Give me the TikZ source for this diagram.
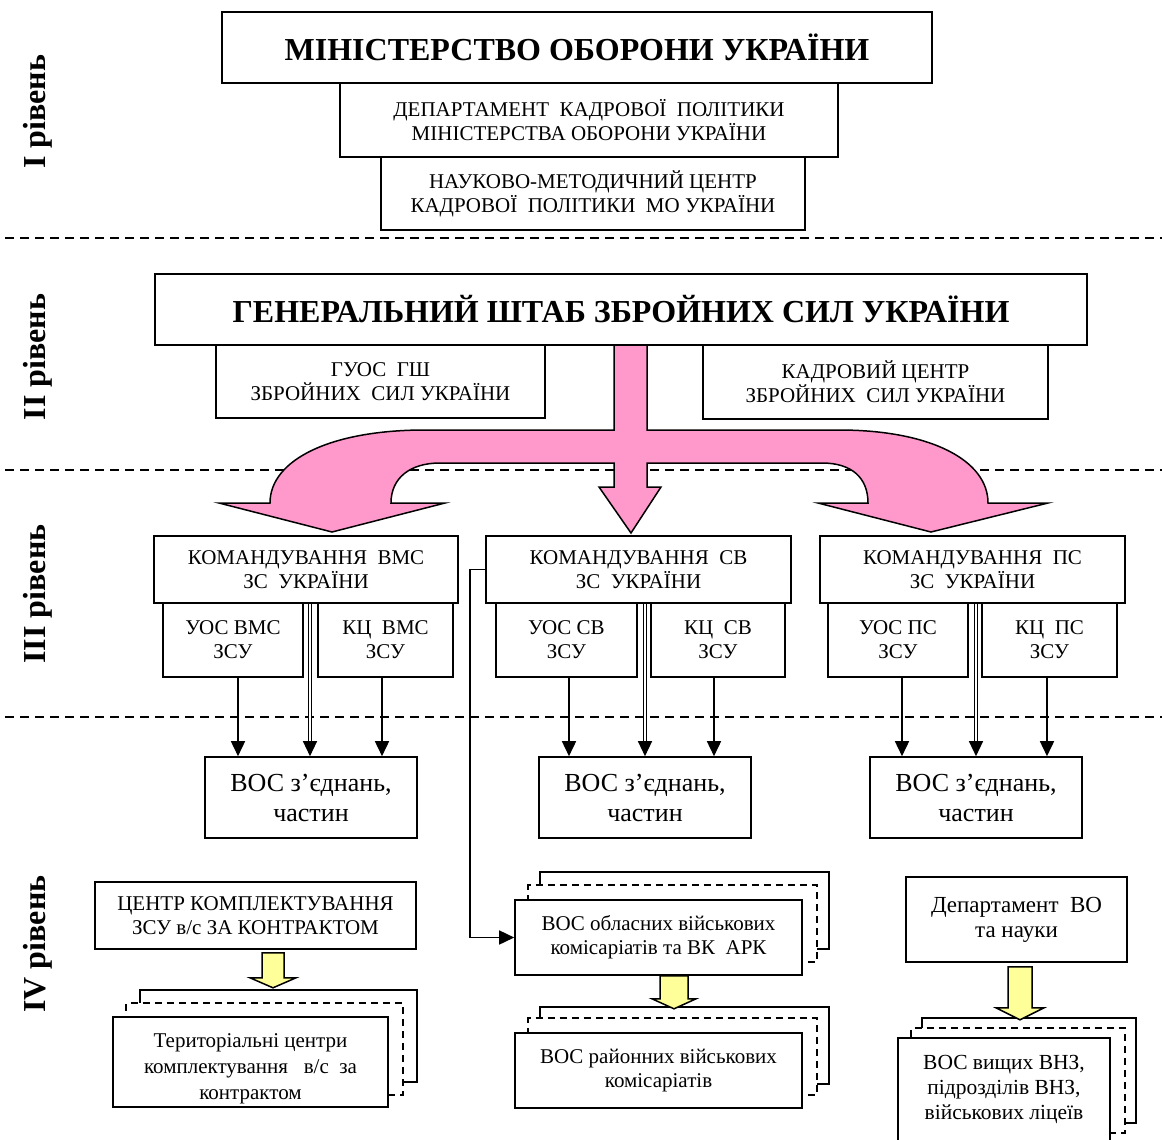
\documentclass[tikz,border=0pt]{standalone}
\usepackage{fontspec}
\setmainfont{Liberation Serif}
\usetikzlibrary{arrows.meta, backgrounds, positioning}

\definecolor{pinkfill}{RGB}{255,153,204}
\definecolor{yellowfill}{RGB}{255,255,153}

\tikzset{
  box/.style={draw, line width=1.6pt, fill=white, align=center, inner sep=0pt,
    font=\fontsize{21}{24}\selectfont},
  titlebox/.style={box, font=\bfseries\fontsize{32}{36}\selectfont},
  vosbox/.style={box, font=\fontsize{26}{30}\selectfont},
  levellabel/.style={rotate=90, font=\bfseries\fontsize{32}{34}\selectfont},
  conn/.style={line width=1.6pt, -{Triangle[length=15pt,width=14pt]}},
  dblconn/.style={conn, double, double distance=2pt, line width=1.3pt},
  levelsep/.style={line width=1.8pt, dash pattern=on 9pt off 6pt},
  backbox/.style={draw, line width=1.6pt, fill=white},
  backdash/.style={backbox, dash pattern=on 7pt off 5pt},
  bigarrow/.style={draw, line width=1.5pt, fill=pinkfill},
  yarrow/.style={draw, line width=1.5pt, fill=yellowfill},
}

\begin{document}
\begin{tikzpicture}[x=1pt, y=-1pt]
  % Page
  \useasboundingbox (0,0) rectangle (1162,1140);
  \begin{scope}[on background layer]
    \fill[white] (0,0) rectangle (1162,1140);
  \end{scope}

  % Level separators
  \draw[levelsep] (5,238) -- (1162,238);
  \draw[levelsep] (5,470) -- (1162,470);
  \draw[levelsep] (5,717) -- (1162,717);

  % Level labels
  \node[levellabel] (lvl1) at (38,112) {I рівень};
  \node[levellabel] (lvl2) at (38,357) {II рівень};
  \node[levellabel] (lvl3) at (38,594) {III рівень};
  \node[levellabel] (lvl4) at (38,944) {IV рівень};

  % Level I
  \node[titlebox, minimum width=710pt, minimum height=71pt] (mo) at (577,47.5)
    {МІНІСТЕРСТВО ОБОРОНИ УКРАЇНИ};
  \node[box, minimum width=498pt, minimum height=74pt] (dkp) at (589,120)
    {ДЕПАРТАМЕНТ~ КАДРОВОЇ~ ПОЛІТИКИ\\МІНІСТЕРСТВА ОБОРОНИ УКРАЇНИ};
  \node[box, minimum width=424pt, minimum height=73pt] (nmc) at (593,193.5)
    {НАУКОВО-МЕТОДИЧНИЙ ЦЕНТР\\КАДРОВОЇ~ ПОЛІТИКИ~ МО УКРАЇНИ};

  % Level II
  \node[titlebox, minimum width=932pt, minimum height=71pt] (gsh) at (621,309.5)
    {ГЕНЕРАЛЬНИЙ ШТАБ ЗБРОЙНИХ СИЛ УКРАЇНИ};
  \node[box, minimum width=329pt, minimum height=73pt] (guos) at (380.5,381.5)
    {ГУОС~ ГШ\\ЗБРОЙНИХ~ СИЛ УКРАЇНИ};
  \node[box, minimum width=345pt, minimum height=74pt] (kc) at (875.5,382)
    {КАДРОВИЙ ЦЕНТР\\ЗБРОЙНИХ~ СИЛ УКРАЇНИ};

  % Big arrow from the General Staff
  \draw[bigarrow] (614,345) -- (614,430) -- (425,430)
    .. controls (330,430) and (270,460) .. (270,503)
    -- (219,503) -- (332,532) -- (445,503) -- (391,503)
    .. controls (391,478) and (410,463) .. (440,463)
    -- (614,463) -- (614,487) -- (599,487) -- (631,533) -- (661,487) -- (647,487)
    -- (647,463) -- (822,463)
    .. controls (852,463) and (868,478) .. (868,503)
    -- (818,503) -- (931,532) -- (1048,503) -- (988,503)
    .. controls (988,460) and (930,430) .. (839,430)
    -- (647,430) -- (647,345) -- cycle;

  % Level III: commands
  \node[box, minimum width=304pt, minimum height=67pt] (kvms) at (306,569.5)
    {КОМАНДУВАННЯ~ ВМС\\ЗС~ УКРАЇНИ};
  \node[box, minimum width=140pt, minimum height=74pt] (uvms) at (233,640)
    {УОС ВМС\\ЗСУ};
  \node[box, minimum width=135pt, minimum height=74pt] (kcvms) at (385.5,640)
    {КЦ~ ВМС\\ЗСУ};
  \node[vosbox, minimum width=212pt, minimum height=81pt] (vvms) at (311,797.5)
    {ВОС з’єднань,\\частин};

  \node[box, minimum width=305pt, minimum height=67pt] (ksv) at (638.5,569.5)
    {КОМАНДУВАННЯ~ СВ\\ЗС~ УКРАЇНИ};
  \node[box, minimum width=141pt, minimum height=74pt] (usv) at (566.5,640)
    {УОС СВ\\ЗСУ};
  \node[box, minimum width=134pt, minimum height=74pt] (kcsv) at (718,640)
    {КЦ~ СВ\\ЗСУ};
  \node[vosbox, minimum width=212pt, minimum height=81pt] (vsv) at (645,797.5)
    {ВОС з’єднань,\\частин};

  \node[box, minimum width=305pt, minimum height=67pt] (kps) at (972.5,569.5)
    {КОМАНДУВАННЯ~ ПС\\ЗС~ УКРАЇНИ};
  \node[box, minimum width=140pt, minimum height=74pt] (ups) at (898,640)
    {УОС ПС\\ЗСУ};
  \node[box, minimum width=135pt, minimum height=74pt] (kcps) at (1049.5,640)
    {КЦ~ ПС\\ЗСУ};
  \node[vosbox, minimum width=212pt, minimum height=81pt] (vps) at (976,797.5)
    {ВОС з’єднань,\\частин};

  % Arrows down to the units
  \draw[conn] ([xshift=5pt]uvms.south) -- ([xshift=5pt]uvms.south |- vvms.north);
  \draw[dblconn] ([xshift=4pt]kvms.south) -- ([xshift=4pt]kvms.south |- vvms.north);
  \draw[conn] ([xshift=-3.5pt]kcvms.south) -- ([xshift=-3.5pt]kcvms.south |- vvms.north);

  \draw[conn] ([xshift=2.5pt]usv.south) -- ([xshift=2.5pt]usv.south |- vsv.north);
  \draw[dblconn] ([xshift=6.5pt]ksv.south) -- ([xshift=6.5pt]ksv.south |- vsv.north);
  \draw[conn] ([xshift=-4pt]kcsv.south) -- ([xshift=-4pt]kcsv.south |- vsv.north);

  \draw[conn] ([xshift=4pt]ups.south) -- ([xshift=4pt]ups.south |- vps.north);
  \draw[dblconn] ([xshift=3.5pt]kps.south) -- ([xshift=3.5pt]kps.south |- vps.north);
  \draw[conn] ([xshift=-2.5pt]kcps.south) -- ([xshift=-2.5pt]kcps.south |- vps.north);

  % Level IV
  \node[box, minimum width=321pt, minimum height=67pt] (ckzsu) at (255.5,915.5)
    {ЦЕНТР КОМПЛЕКТУВАННЯ\\ЗСУ в/с ЗА КОНТРАКТОМ};
  \node[box, minimum width=275pt, minimum height=90pt,
    font=\fontsize{21}{26}\selectfont] (terr) at (250.5,1062)
    {\rule{0pt}{28pt}Територіальні центри\\комплектування~~ в/с~ за\\контрактом};

  \node[box, minimum width=287pt, minimum height=75pt] (obl) at (658.5,937.5)
    {ВОС обласних військових\\комісаріатів та ВК~ АРК};
  \node[box, minimum width=287pt, minimum height=75pt] (ray) at (658.5,1070.5)
    {ВОС районних військових\\комісаріатів};

  \node[box, minimum width=221pt, minimum height=85pt,
    font=\fontsize{23}{25}\selectfont] (dept) at (1016.5,919.5)
    {Департамент~ ВО\\та науки};
  \node[box, minimum width=212pt, minimum height=103pt,
    font=\fontsize{21.5}{25}\selectfont] (vnz) at (1004,1089.5)
    {ВОС вищих ВНЗ,\\підрозділів ВНЗ,\\військових ліцеїв};

  % Copies behind the stacked boxes
  \begin{scope}[on background layer]
    \draw[backbox] ([shift={(28,-26)}]terr.south west) rectangle ([shift={(28,-26)}]terr.north east);
    \draw[backdash] ([shift={(14,-13)}]terr.south west) rectangle ([shift={(14,-13)}]terr.north east);
    \draw[backbox] ([shift={(26,-27)}]obl.south west) rectangle ([shift={(26,-27)}]obl.north east);
    \draw[backdash] ([shift={(14,-14)}]obl.south west) rectangle ([shift={(14,-14)}]obl.north east);
    \draw[backbox] ([shift={(26,-25)}]ray.south west) rectangle ([shift={(26,-25)}]ray.north east);
    \draw[backdash] ([shift={(14,-14)}]ray.south west) rectangle ([shift={(14,-14)}]ray.north east);
    \draw[backbox] ([shift={(25,-19)}]vnz.south west) rectangle ([shift={(25,-19)}]vnz.north east);
    \draw[backdash] ([shift={(14,-9)}]vnz.south west) rectangle ([shift={(14,-9)}]vnz.north east);
  \end{scope}

  % Command of the land forces to the regional commissariats
  \draw[conn] (ksv.west) -- ++(-15,0) |- (obl.west);

  % Yellow arrows
  \draw[yarrow] ([xshift=17.5pt]ckzsu.south) ++(-11,3) -- ++(0,25) -- ++(-12,0)
    -- ++(23,10) -- ++(23,-10) -- ++(-12,0) -- ++(0,-25) -- cycle;
  \draw[yarrow] ([xshift=15.5pt]obl.south) ++(-14,0) -- ++(0,23) -- ++(-8,0)
    -- ++(22,10) -- ++(22,-10) -- ++(-8,0) -- ++(0,-23) -- cycle;
  \draw[yarrow] ([xshift=3.5pt]dept.south) ++(-12,4) -- ++(0,41) -- ++(-12,0)
    -- ++(24,12) -- ++(24,-12) -- ++(-12,0) -- ++(0,-41) -- cycle;
\end{tikzpicture}
\end{document}
